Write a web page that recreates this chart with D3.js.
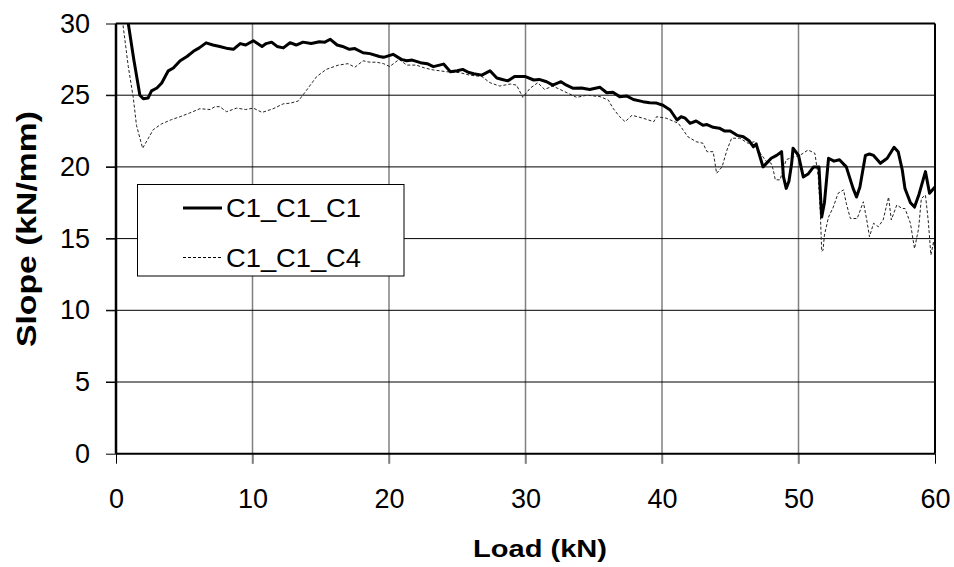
<!DOCTYPE html>
<html>
<head>
<meta charset="utf-8">
<script src="https://cdn.jsdelivr.net/npm/d3@7"></script>
<style>
    body { margin: 0; background: #fff; }
    text { font-family: "Liberation Sans", Arial, sans-serif; fill: #000; }
</style>
</head>
<body>
<svg id="chart" width="954" height="567"></svg>
<script>
//Data
var loadC1 = [0.7,0.9,1.3,1.75,2.0,2.35,2.6,3.0,3.35,3.83,4.2,4.7,5.2,5.67,6.1,6.6,7.1,7.6,8.2,8.6,9.1,9.5,10.06,10.7,11.0,11.4,11.8,12.26,12.75,13.2,13.7,14.3,14.9,15.3,15.7,16.2,16.6,17.1,17.5,18.1,18.6,19.3,19.6,20.3,20.9,21.3,21.7,22.3,22.8,23.25,24.0,24.5,25.0,25.4,25.8,26.2,26.8,27.4,27.9,28.3,28.7,29.2,30.0,30.6,31.0,31.55,32.0,32.6,33.0,33.5,34.1,34.7,35.46,35.95,36.4,36.9,37.4,37.9,38.6,39.1,39.6,40.07,40.6,41.1,41.4,41.7,42.05,42.5,43.0,43.3,43.75,44.2,44.6,45.0,45.5,45.96,46.4,46.7,46.9,47.4,47.7,48.0,48.4,48.76,48.9,49.1,49.3,49.5,49.6,50.0,50.35,50.7,51.1,51.5,51.7,51.9,52.2,52.6,53.0,53.5,54.0,54.25,54.5,54.9,55.2,55.5,56.0,56.5,57.0,57.3,57.6,57.8,58.2,58.5,58.8,59.3,59.6,60.0];
var slopeC1 = [33,30,27.5,25.0,24.75,24.8,25.3,25.5,25.85,26.7,26.9,27.4,27.7,28.06,28.3,28.65,28.5,28.4,28.25,28.2,28.6,28.5,28.8,28.4,28.6,28.7,28.4,28.3,28.66,28.5,28.7,28.6,28.73,28.7,28.9,28.5,28.4,28.2,28.25,27.96,27.9,27.7,27.64,27.85,27.5,27.4,27.45,27.27,27.2,26.99,27.17,26.64,26.7,26.8,26.6,26.5,26.4,26.7,26.2,26.1,26.0,26.3,26.3,26.06,26.1,25.94,25.7,25.94,25.7,25.48,25.5,25.4,25.55,25.17,25.2,24.9,24.95,24.7,24.55,24.48,24.45,24.3,23.97,23.27,23.5,23.4,23.04,23.2,22.9,22.95,22.76,22.7,22.5,22.5,22.2,22.1,21.8,21.4,21.6,20.0,20.3,20.6,20.8,21.06,19.3,18.5,19.0,20.25,21.3,20.8,19.3,19.5,20.0,20.0,16.5,17.5,20.6,20.4,20.5,20.0,18.5,17.9,18.6,20.8,20.9,20.8,20.25,20.6,21.37,21.06,19.8,18.5,17.5,17.2,18.0,19.67,18.16,18.6];

var loadC4 = [0.3,0.5,0.9,1.27,1.5,1.95,2.37,2.73,3.34,4.07,4.7,5.4,6.15,6.9,7.25,7.6,8.1,8.84,9.5,10.06,10.7,11.5,12.26,12.8,13.36,13.97,14.7,15.4,16.3,17.0,17.5,18.1,18.6,19.1,19.6,20.05,20.75,21.3,22.0,22.6,23.25,24.2,25.2,25.9,26.8,27.4,28.1,28.9,29.35,29.8,30.33,30.9,31.4,32.0,32.75,33.75,34.5,35.46,36.07,36.4,36.9,37.3,37.8,38.6,39.4,39.6,40.3,41.2,41.9,42.5,43.0,43.3,43.75,44.0,44.4,44.76,45.1,45.7,46.3,46.8,47.2,47.66,48.0,48.15,48.3,48.65,49.1,49.6,50.1,50.7,51.2,51.45,51.6,51.7,51.8,51.9,52.2,52.55,52.9,53.3,53.5,53.8,54.3,54.75,55.0,55.2,55.5,55.85,56.2,56.6,56.8,57.2,57.6,57.8,58.2,58.5,58.8,59.0,59.3,59.5,59.7,59.9,60.0];
var slopeC4 = [33,30,27,24.8,22.9,21.3,22.0,22.6,23.0,23.3,23.5,23.76,24.06,24.0,24.2,24.2,23.85,24.1,24.0,24.1,23.8,24.05,24.4,24.45,24.6,25.36,26.3,26.8,27.1,27.2,26.95,27.4,27.3,27.3,27.2,27.0,27.5,27.1,27.1,26.9,26.76,26.64,26.57,26.4,26.3,25.87,25.64,25.78,25.7,24.85,25.48,25.87,25.4,25.64,25.3,24.85,25.0,24.9,24.66,24.1,23.5,23.15,23.6,23.4,23.15,23.5,23.4,23.04,22.1,21.76,21.65,21.06,21.06,19.55,20.0,21.18,22.0,22.0,21.65,21.76,20.95,20.36,20.25,19.8,19.1,19.1,20.5,20.7,20.8,21.18,20.95,19.3,16.76,14.1,14.2,15.25,16.5,17.2,18.16,18.4,17.46,16.4,16.4,17.57,16.3,15.13,16.07,15.83,16.3,17.9,16.3,17.34,17.1,17.1,16.07,14.3,15.7,17.8,18.04,16.3,13.86,14.8,14.0];

var xTicks = [0,10,20,30,40,50,60];
var yTicks = [0,5,10,15,20,25,30];
var seriesNames = ["C1_C1_C1","C1_C1_C4"];

var svg = d3.select("#chart");
var margin = {top: 23.5, right: 19, bottom: 113.3, left: 116};
var width = 954 - margin.left - margin.right;
var height = 567 - margin.top - margin.bottom;

var x = d3.scaleLinear().domain([0,60]).range([0,width]);
var y = d3.scaleLinear().domain([0,30]).range([height,0]);

var g = svg.append("g")
    .attr("transform","translate(" + margin.left + "," + margin.top + ")");

g.append("clipPath")
    .attr("id","plot-clip")
    .append("rect")
    .attr("width",width)
    .attr("height",height);

//Vertical gridlines (gray)
g.selectAll(".vgrid")
    .data(xTicks.slice(1,-1))
    .enter()
    .append("line")
    .attr("x1",d => x(d))
    .attr("x2",d => x(d))
    .attr("y1",0)
    .attr("y2",height + 10)
    .style("stroke","#808080")
    .style("stroke-width",1.5);

//Horizontal gridlines (black)
g.selectAll(".hgrid")
    .data(yTicks.slice(1,-1))
    .enter()
    .append("line")
    .attr("x1",-10)
    .attr("x2",width)
    .attr("y1",d => y(d))
    .attr("y2",d => y(d))
    .style("stroke","#000")
    .style("stroke-width",1);

//Axes
var xAxis = g.append("g")
    .attr("transform","translate(0," + height + ")")
    .call(d3.axisBottom(x).tickValues(xTicks).tickSize(10).tickPadding(25));
var yAxis = g.append("g")
    .call(d3.axisLeft(y).tickValues(yTicks).tickSize(10).tickPadding(16));

[xAxis,yAxis].forEach(function(a) {
    a.select(".domain").remove();
    a.selectAll("text")
        .style("font-size","27px")
        .style("font-family","'Liberation Sans', Arial, sans-serif");
    a.selectAll("line").style("stroke","#000");
});
xAxis.selectAll("line").filter(d => d != 0 && d != 60).style("stroke","#808080").style("stroke-width",1.5);
xAxis.selectAll("text").attr("dy","0.71em");

//Plot frame
g.append("line").attr("x1",0).attr("x2",width).attr("y1",0).attr("y2",0)
    .style("stroke","#000").style("stroke-width",2);
g.append("line").attr("x1",width).attr("x2",width).attr("y1",0).attr("y2",height)
    .style("stroke","#000").style("stroke-width",2);
g.append("line").attr("x1",0).attr("x2",width).attr("y1",height).attr("y2",height)
    .style("stroke","#000").style("stroke-width",2);
g.append("line").attr("x1",0).attr("x2",0).attr("y1",0).attr("y2",height)
    .style("stroke","#000").style("stroke-width",2.5);

//Series lines
var line = d3.line()
    .x(d => x(d[0]))
    .y(d => y(d[1]));

var c4 = d3.zip(loadC4,slopeC4);
var c1 = d3.zip(loadC1,slopeC1);

g.append("path")
    .datum(c4)
    .attr("clip-path","url(#plot-clip)")
    .attr("d",line)
    .style("fill","none")
    .style("stroke","#222")
    .style("stroke-width",1)
    .style("stroke-dasharray","3,2");

g.append("path")
    .datum(c1)
    .attr("clip-path","url(#plot-clip)")
    .attr("d",line)
    .style("fill","none")
    .style("stroke","#000")
    .style("stroke-width",3)
    .style("stroke-linejoin","round");

//Legend
var legend = svg.append("g").attr("transform","translate(137.5,184.5)");
legend.append("rect")
    .attr("width",266.5)
    .attr("height",91.5)
    .style("fill","#fff")
    .style("stroke","#000")
    .style("stroke-width",1);

legend.selectAll(".item")
    .data(seriesNames)
    .enter()
    .append("g")
    .attr("transform",function(d,i) {
        return "translate(0," + (23.5 + i * 49.5) + ")";
    })
    .each(function(d,i) {
        var item = d3.select(this);
        item.append("line")
            .attr("x1",45.5)
            .attr("x2",84.5)
            .style("stroke","#000")
            .style("stroke-width",i == 0 ? 3 : 1)
            .style("stroke-dasharray",i == 0 ? null : "3,2");
        item.append("text")
            .attr("x",88.5)
            .attr("dy","0.36em")
            .attr("textLength",135)
            .attr("lengthAdjust","spacingAndGlyphs")
            .style("font-size","26px")
            .text(d);
    });

//Axis titles
svg.append("text")
    .attr("x",540)
    .attr("y",557)
    .attr("text-anchor","middle")
    .attr("textLength",134)
    .attr("lengthAdjust","spacingAndGlyphs")
    .style("font-size","24px")
    .style("font-weight","bold")
    .text("Load (kN)");

svg.append("text")
    .attr("transform","translate(36,229) rotate(-90)")
    .attr("text-anchor","middle")
    .attr("textLength",236)
    .attr("lengthAdjust","spacingAndGlyphs")
    .style("font-size","27px")
    .style("font-weight","bold")
    .text("Slope (kN/mm)");
</script>
</body>
</html>
